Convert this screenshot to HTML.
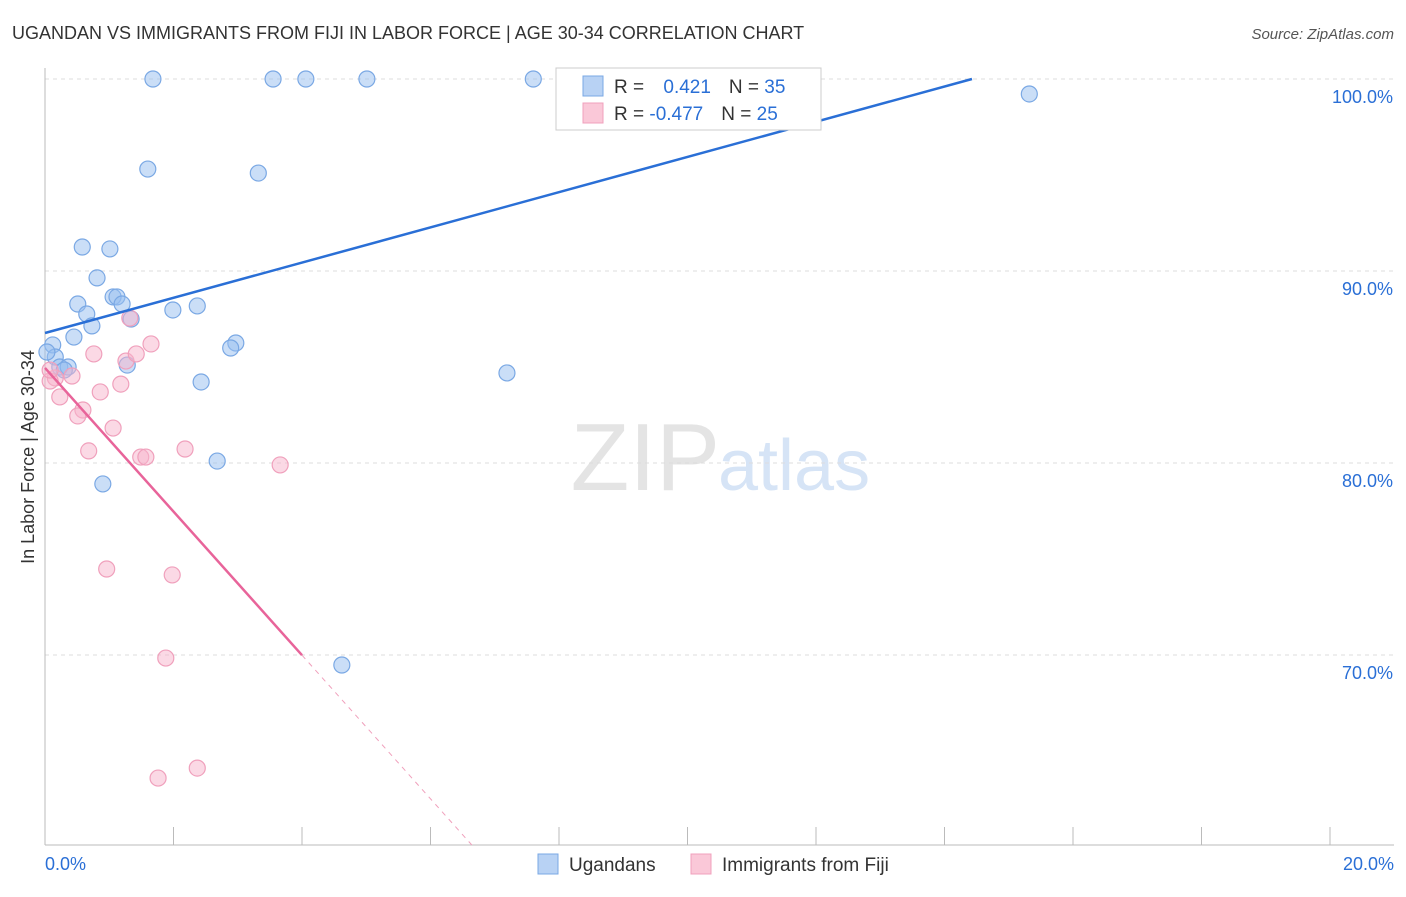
<!DOCTYPE html>
<html><head><meta charset="utf-8">
<style>
body{margin:0;background:#fff;font-family:"Liberation Sans",sans-serif;}
svg text{font-family:"Liberation Sans",sans-serif;}
</style></head>
<body>
<svg id="chart" width="1406" height="892" viewBox="0 0 1406 892">
<text x="12" y="39" font-size="18" fill="#333">UGANDAN VS IMMIGRANTS FROM FIJI IN LABOR FORCE | AGE 30-34 CORRELATION CHART</text>
<text x="1394" y="39" font-size="15" fill="#555" font-style="italic" text-anchor="end">Source: ZipAtlas.com</text>
<text x="720" y="490" font-size="96" fill="#e4e4e4" text-anchor="end" font-family="Liberation Serif">ZIP</text>
<text x="718" y="490" font-size="72" fill="#d6e4f6">atlas</text>
<g id="grid"></g>
<g id="axes"></g>
<g id="marks"></g>
<text transform="translate(34,457) rotate(-90)" font-size="18" fill="#333" text-anchor="middle">In Labor Force | Age 30-34</text>
<g>
<rect x="556" y="68" width="265" height="62" fill="#fff" stroke="#ccc"/>
<rect x="583" y="76" width="20" height="20" fill="#b8d2f4" stroke="#7aa8e4"/>
<rect x="583" y="103" width="20" height="20" fill="#fac8d8" stroke="#f0a0bc"/>
<text x="614" y="93" font-size="19" fill="#333">R = <tspan fill="#2a6fd6" dx="14">0.421</tspan><tspan dx="18">N = </tspan><tspan fill="#2a6fd6">35</tspan></text>
<text x="614" y="120" font-size="19" fill="#333">R = <tspan fill="#2a6fd6">-0.477</tspan><tspan dx="18">N = </tspan><tspan fill="#2a6fd6">25</tspan></text>
</g>
<g>
<rect x="538" y="854" width="20" height="20" fill="#b8d2f4" stroke="#7aa8e4"/>
<text x="569" y="871" font-size="19" fill="#333">Ugandans</text>
<rect x="691" y="854" width="20" height="20" fill="#fac8d8" stroke="#f0a0bc"/>
<text x="722" y="871" font-size="19" fill="#333">Immigrants from Fiji</text>
</g>
</svg>
<script>
const xTicks=[0,2,4,6,8,10,12,14,16,18,20];
const yTicks=[70,80,90,100];
const yTickLabels=["70.0%","80.0%","90.0%","100.0%"];
const blueX=[1.68,3.55,4.06,5.01,7.60,15.32,1.60,3.32,0.58,1.01,0.81,0.51,1.06,1.12,1.20,0.65,1.99,2.37,0.73,1.34,0.45,0.12,2.97,2.89,0.16,0.23,0.36,0.30,1.28,2.43,7.19,2.68,0.90,4.62,0.03];
const blueY=[100,100,100,100,100,99.22,95.31,95.10,91.25,91.15,89.64,88.28,88.65,88.65,88.28,87.76,87.97,88.18,87.14,87.50,86.56,86.15,86.25,85.99,85.52,85.0,85.0,84.84,85.10,84.22,84.69,80.10,78.91,69.48,85.78];
const pinkX=[0.76,0.42,0.23,0.16,0.08,0.59,0.51,0.86,1.18,1.26,1.42,1.65,1.32,1.06,0.68,1.49,1.57,2.18,3.66,0.96,1.98,1.88,2.37,1.76,0.08];
const pinkY=[85.68,84.53,83.44,84.43,84.27,82.76,82.45,83.70,84.11,85.31,85.68,86.20,87.55,81.82,80.63,80.31,80.31,80.73,79.90,74.48,74.17,69.84,64.11,63.59,84.84];
const blueTrend=[86.77,0.917];
const pinkTrend=[84.95,-3.74];
const NS="http://www.w3.org/2000/svg";
const X=v=>45+v*64.25, Y=v=>79+(100-v)*19.2;
function mk(t,a,p){const e=document.createElementNS(NS,t);for(const k in a)e.setAttribute(k,a[k]);p.appendChild(e);return e;}
const grid=document.getElementById('grid'),axes=document.getElementById('axes'),marks=document.getElementById('marks');
yTicks.forEach((v,i)=>{
 const l=mk('line',{x1:45,x2:1394,y1:Y(v),y2:Y(v),stroke:'#ddd','stroke-dasharray':'4,4'},grid);
 
 
 const t=mk('text',{x:1393,y:Y(v)+24,'font-size':18,fill:'#2a6fd6','text-anchor':'end'},axes);
 t.textContent=yTickLabels[i];
 
 
});
mk('line',{x1:45,x2:45,y1:68,y2:845,stroke:'#bbb'},axes);
mk('line',{x1:45,x2:1394,y1:845,y2:845,stroke:'#bbb'},axes);
xTicks.forEach(v=>{
 const l=mk('line',{x1:X(v),x2:X(v),y1:827,y2:845,stroke:'#bbb'},axes);
 
 
});
let t=mk('text',{x:45,y:870,'font-size':18,fill:'#2a6fd6'},axes);t.textContent='0.0%';


t=mk('text',{x:1394,y:870,'font-size':18,fill:'#2a6fd6','text-anchor':'end'},axes);t.textContent='20.0%';


blueX.forEach((x,i)=>{
 const c=mk('circle',{cx:X(x),cy:Y(blueY[i]),r:8,fill:'rgba(150,190,240,0.5)',stroke:'#7aa8e4','stroke-width':1.2},marks);
 
 
});
pinkX.forEach((x,i)=>{
 const c=mk('circle',{cx:X(x),cy:Y(pinkY[i]),r:8,fill:'rgba(248,180,204,0.5)',stroke:'#f0a0bc','stroke-width':1.2},marks);
 
 
});
const bx2=(100-blueTrend[0])/blueTrend[1];
let l=mk('line',{x1:X(0),y1:Y(blueTrend[0]),x2:X(bx2),y2:Y(100),stroke:'#2a6fd6','stroke-width':2.5},marks);


const px1=4,px2=(60.1-pinkTrend[0])/pinkTrend[1];
l=mk('line',{x1:X(0),y1:Y(pinkTrend[0]),x2:X(px1),y2:Y(pinkTrend[0]+pinkTrend[1]*px1),stroke:'#e8649a','stroke-width':2.5},marks);


l=mk('line',{x1:X(px1),y1:Y(pinkTrend[0]+pinkTrend[1]*px1),x2:X(px2),y2:Y(60.1),stroke:'#f0a0bc','stroke-width':1,'stroke-dasharray':'5,5'},marks);


</script>
</body></html>
